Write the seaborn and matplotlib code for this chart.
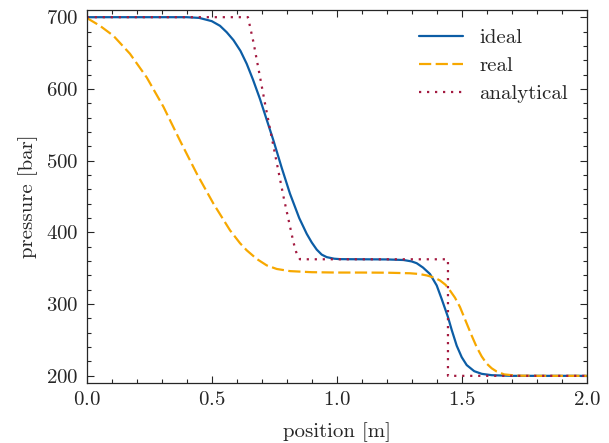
# Shock tube: pressure along the tube
import pandas as pd
import matplotlib.pyplot as plt
import seaborn as sns

# valores
ideal_x = [0.0, 0.40, 0.45, 0.50, 0.533, 0.56, 0.587, 0.615, 0.64, 0.665, 0.693, 0.72, 0.747,
           0.78, 0.813, 0.85, 0.88, 0.90, 0.92, 0.94, 0.96, 0.99, 1.013, 1.10, 1.20, 1.267,
           1.30, 1.32, 1.345, 1.373, 1.40, 1.42, 1.445, 1.46, 1.48, 1.50, 1.52, 1.55, 1.58,
           1.62, 1.70, 2.0]
ideal_p = [700, 700, 699, 694.5, 688, 679, 668, 653, 635, 613, 586, 557, 528,
           490, 454, 420, 398, 386, 376, 369, 365.5, 363.3, 362.7, 362.5, 362.3, 361.5,
           359.5, 357, 351, 342, 326, 307, 282, 264, 242, 226, 215, 206.5, 202.8,
           200.9, 200, 200]

real_x = [0.0, 0.053, 0.107, 0.173, 0.24, 0.307, 0.373, 0.44, 0.507, 0.573, 0.613, 0.64,
          0.68, 0.72, 0.76, 0.813, 0.90, 1.0, 1.1, 1.2, 1.293, 1.33, 1.36, 1.39, 1.413,
          1.435, 1.453, 1.473, 1.493, 1.52, 1.54, 1.56, 1.58, 1.60, 1.62, 1.64, 1.67,
          1.72, 1.8, 2.0]
real_p = [699, 688, 674, 649, 616, 575, 528, 482, 440, 403, 385, 375,
          363, 354, 349, 346, 344.5, 344, 344, 343.8, 343, 342, 340, 337, 333,
          327, 319, 309, 296, 273, 256, 240, 227, 217, 210.5, 206, 202,
          200.3, 200, 200]

analytical_x = [0.0, 0.645, 0.667, 0.687, 0.713, 0.747, 0.787, 0.827, 0.84, 0.853, 1.445, 1.445, 2.0]
analytical_p = [700, 700, 665, 628, 580, 520, 450, 386, 370, 362.5, 362.5, 200, 200]

sns.set_style("ticks")
plt.rcParams["font.family"] = "serif"
plt.rcParams["font.serif"] = ["cmr10", "DejaVu Serif"]
plt.rcParams["mathtext.fontset"] = "cm"
plt.rcParams["axes.formatter.use_mathtext"] = True
plt.rcParams["font.size"] = 15

fig = plt.figure(figsize=(6.09, 4.43), dpi=100)
ax = fig.add_axes([0.1424, 0.1354, 0.821, 0.8420])

ideal = pd.DataFrame({"x": ideal_x, "p": ideal_p})
real = pd.DataFrame({"x": real_x, "p": real_p})
analytical = pd.DataFrame({"x": analytical_x, "p": analytical_p})

sns.lineplot(data=ideal, x="x", y="p", ax=ax, color="#0C5DA5", lw=1.6,
             estimator=None, sort=False, label="ideal")
sns.lineplot(data=real, x="x", y="p", ax=ax, color="#F7A800", lw=1.6,
             estimator=None, sort=False, label="real")
ax.lines[-1].set_dashes((5.5, 2))
sns.lineplot(data=analytical, x="x", y="p", ax=ax, color="#A31A40", lw=1.6,
             estimator=None, sort=False, label="analytical")
ax.lines[-1].set_dashes((1, 2.6))

ax.set_xlim(0, 2)
ax.set_ylim(190, 710)
ax.set_xticks([0.0, 0.5, 1.0, 1.5, 2.0])
ax.set_yticks([200, 300, 400, 500, 600, 700])
ax.set_xlabel("position [m]", labelpad=9)
ax.set_ylabel("pressure [bar]", labelpad=6)

ax.minorticks_on()
ax.xaxis.set_minor_locator(plt.MultipleLocator(0.1))
ax.yaxis.set_minor_locator(plt.MultipleLocator(20))
ax.tick_params(which="both", direction="in", top=True, right=True, width=0.8)
ax.tick_params(which="major", length=5, pad=6)
ax.tick_params(which="minor", length=2.6)
for s in ax.spines.values():
    s.set_linewidth(0.9)

leg = ax.legend(loc="upper right", frameon=False, handlelength=2.1, fontsize=15,
                labelspacing=0.45)
for h in leg.get_lines():
    h.set_linewidth(1.6)

plt.savefig("out.png", dpi=100)
